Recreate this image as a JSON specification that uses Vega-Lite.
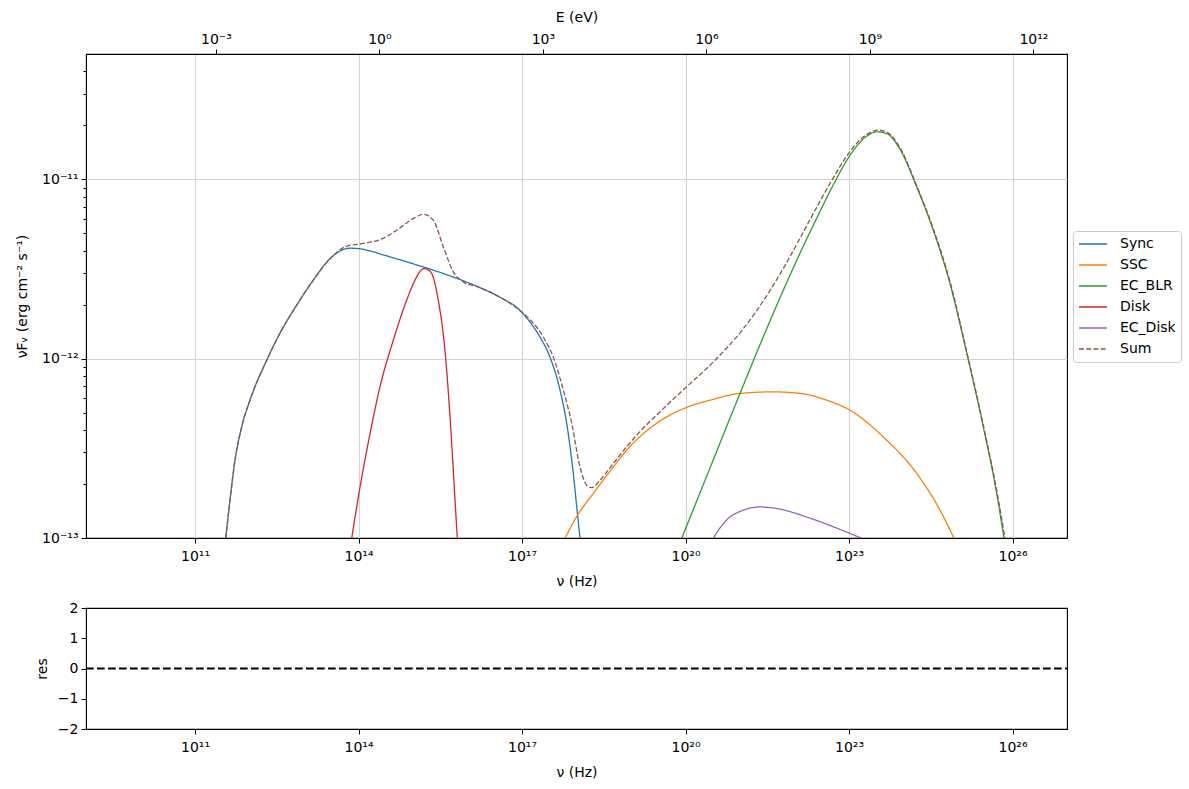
{
  "$schema": "https://vega.github.io/schema/vega-lite/v6.json",
  "padding": {"left": 15, "top": 9, "right": 5, "bottom": 5},
  "config": {
    "font": "DejaVu Sans",
    "view": {"stroke": "#000000", "strokeWidth": 1.1},
    "axis": {"labelFont": "DejaVu Sans", "titleFont": "DejaVu Sans", "labelFontSize": 14, "titleFontSize": 14, "titleFontWeight": "normal", "labelColor": "#000", "titleColor": "#000", "tickColor": "#000", "domainColor": "#000", "tickSize": 5, "labelPadding": 3, "grid": false, "labelFlush": false, "labelOverlap": false, "gridColor": "#d3d3d3", "gridWidth": 1},
    "legend": {"labelFont": "DejaVu Sans", "labelFontSize": 14, "labelColor": "#000", "strokeColor": "#cccccc", "fillColor": "#ffffff", "cornerRadius": 3, "padding": 5, "symbolType": "stroke", "symbolSize": 784, "symbolStrokeWidth": 1.4, "rowPadding": 5, "labelOffset": 12, "clipHeight": 16}
  },
  "datasets": {
    "sed": [
      {"c": "Sync", "nu": 3.66e11, "F": 9.96e-14}, {"c": "Sync", "nu": 4.39e11, "F": 1.63e-13}, {"c": "Sync", "nu": 5.42e11, "F": 2.72e-13}, {"c": "Sync", "nu": 7.19e11, "F": 4.17e-13}, {"c": "Sync", "nu": 1.02e12, "F": 5.87e-13}, {"c": "Sync", "nu": 2.07e12, "F": 9.81e-13}, {"c": "Sync", "nu": 3.63e12, "F": 1.39e-12}, {"c": "Sync", "nu": 7.35e12, "F": 1.99e-12}, {"c": "Sync", "nu": 1.48e13, "F": 2.74e-12}, {"c": "Sync", "nu": 3.0e13, "F": 3.61e-12}, {"c": "Sync", "nu": 5.26e13, "F": 4.06e-12}, {"c": "Sync", "nu": 6.98e13, "F": 4.13e-12}, {"c": "Sync", "nu": 1.07e14, "F": 4.10e-12}, {"c": "Sync", "nu": 1.63e14, "F": 3.99e-12}, {"c": "Sync", "nu": 2.48e14, "F": 3.84e-12}, {"c": "Sync", "nu": 1.01e15, "F": 3.38e-12}, {"c": "Sync", "nu": 4.15e15, "F": 2.94e-12}, {"c": "Sync", "nu": 1.69e16, "F": 2.49e-12}, {"c": "Sync", "nu": 3.94e16, "F": 2.20e-12}, {"c": "Sync", "nu": 9.18e16, "F": 1.86e-12}, {"c": "Sync", "nu": 1.40e17, "F": 1.60e-12}, {"c": "Sync", "nu": 2.14e17, "F": 1.32e-12}, {"c": "Sync", "nu": 3.26e17, "F": 1.02e-12}, {"c": "Sync", "nu": 4.98e17, "F": 6.68e-13}, {"c": "Sync", "nu": 6.61e17, "F": 4.36e-13}, {"c": "Sync", "nu": 8.73e17, "F": 2.29e-13}, {"c": "Sync", "nu": 1.01e18, "F": 1.49e-13}, {"c": "Sync", "nu": 1.16e18, "F": 9.96e-14},
      {"c": "SSC", "nu": 6.15e17, "F": 9.96e-14}, {"c": "SSC", "nu": 1.01e18, "F": 1.32e-13}, {"c": "SSC", "nu": 2.03e18, "F": 1.77e-13}, {"c": "SSC", "nu": 4.73e18, "F": 2.49e-13}, {"c": "SSC", "nu": 8.34e18, "F": 3.09e-13}, {"c": "SSC", "nu": 3.40e19, "F": 4.49e-13}, {"c": "SSC", "nu": 1.05e20, "F": 5.35e-13}, {"c": "SSC", "nu": 2.82e20, "F": 5.87e-13}, {"c": "SSC", "nu": 1.0e21, "F": 6.40e-13}, {"c": "SSC", "nu": 4.08e21, "F": 6.53e-13}, {"c": "SSC", "nu": 1.26e22, "F": 6.40e-13}, {"c": "SSC", "nu": 3.90e22, "F": 5.87e-13}, {"c": "SSC", "nu": 1.04e23, "F": 5.16e-13}, {"c": "SSC", "nu": 4.26e23, "F": 3.66e-13}, {"c": "SSC", "nu": 1.75e24, "F": 2.29e-13}, {"c": "SSC", "nu": 4.68e24, "F": 1.43e-13}, {"c": "SSC", "nu": 8.45e24, "F": 9.96e-14},
      {"c": "EC_BLR", "nu": 8.51e19, "F": 9.96e-14}, {"c": "EC_BLR", "nu": 2.82e20, "F": 2.46e-13}, {"c": "EC_BLR", "nu": 1.0e21, "F": 6.40e-13}, {"c": "EC_BLR", "nu": 3.30e21, "F": 1.54e-12}, {"c": "EC_BLR", "nu": 1.26e22, "F": 3.87e-12}, {"c": "EC_BLR", "nu": 2.55e22, "F": 6.06e-12}, {"c": "EC_BLR", "nu": 5.15e22, "F": 9.31e-12}, {"c": "EC_BLR", "nu": 1.04e23, "F": 1.36e-11}, {"c": "EC_BLR", "nu": 2.11e23, "F": 1.74e-11}, {"c": "EC_BLR", "nu": 3.22e23, "F": 1.84e-11}, {"c": "EC_BLR", "nu": 4.92e23, "F": 1.80e-11}, {"c": "EC_BLR", "nu": 8.63e23, "F": 1.47e-11}, {"c": "EC_BLR", "nu": 1.75e24, "F": 9.06e-12}, {"c": "EC_BLR", "nu": 3.52e24, "F": 5.20e-12}, {"c": "EC_BLR", "nu": 7.13e24, "F": 2.62e-12}, {"c": "EC_BLR", "nu": 1.45e25, "F": 1.07e-12}, {"c": "EC_BLR", "nu": 2.91e25, "F": 4.17e-13}, {"c": "EC_BLR", "nu": 5.13e25, "F": 1.77e-13}, {"c": "EC_BLR", "nu": 6.98e25, "F": 9.96e-14},
      {"c": "Disk", "nu": 7.50e13, "F": 9.96e-14}, {"c": "Disk", "nu": 1.07e14, "F": 1.93e-13}, {"c": "Disk", "nu": 1.63e14, "F": 3.83e-13}, {"c": "Disk", "nu": 2.48e14, "F": 6.97e-13}, {"c": "Disk", "nu": 4.36e14, "F": 1.27e-12}, {"c": "Disk", "nu": 7.66e14, "F": 2.12e-12}, {"c": "Disk", "nu": 1.17e15, "F": 2.86e-12}, {"c": "Disk", "nu": 1.34e15, "F": 3.06e-12}, {"c": "Disk", "nu": 1.61e15, "F": 3.18e-12}, {"c": "Disk", "nu": 1.88e15, "F": 3.13e-12}, {"c": "Disk", "nu": 2.20e15, "F": 2.99e-12}, {"c": "Disk", "nu": 2.91e15, "F": 2.12e-12}, {"c": "Disk", "nu": 3.86e15, "F": 1.11e-12}, {"c": "Disk", "nu": 4.78e15, "F": 4.74e-13}, {"c": "Disk", "nu": 5.90e15, "F": 1.63e-13}, {"c": "Disk", "nu": 6.50e15, "F": 9.96e-14},
      {"c": "EC_Disk", "nu": 3.24e20, "F": 9.96e-14}, {"c": "EC_Disk", "nu": 3.73e20, "F": 1.07e-13}, {"c": "EC_Disk", "nu": 5.70e20, "F": 1.26e-13}, {"c": "EC_Disk", "nu": 1.15e21, "F": 1.43e-13}, {"c": "EC_Disk", "nu": 2.33e21, "F": 1.49e-13}, {"c": "EC_Disk", "nu": 4.71e21, "F": 1.46e-13}, {"c": "EC_Disk", "nu": 1.92e22, "F": 1.29e-13}, {"c": "EC_Disk", "nu": 1.04e23, "F": 1.06e-13}, {"c": "EC_Disk", "nu": 1.71e23, "F": 9.96e-14},
      {"c": "Sum", "nu": 3.66e11, "F": 9.96e-14}, {"c": "Sum", "nu": 4.39e11, "F": 1.63e-13}, {"c": "Sum", "nu": 5.42e11, "F": 2.72e-13}, {"c": "Sum", "nu": 7.19e11, "F": 4.17e-13}, {"c": "Sum", "nu": 1.02e12, "F": 5.87e-13}, {"c": "Sum", "nu": 2.07e12, "F": 9.81e-13}, {"c": "Sum", "nu": 3.63e12, "F": 1.39e-12}, {"c": "Sum", "nu": 7.35e12, "F": 1.99e-12}, {"c": "Sum", "nu": 1.48e13, "F": 2.74e-12}, {"c": "Sum", "nu": 3.0e13, "F": 3.61e-12}, {"c": "Sum", "nu": 6.07e13, "F": 4.24e-12}, {"c": "Sum", "nu": 1.22e14, "F": 4.39e-12}, {"c": "Sum", "nu": 2.48e14, "F": 4.61e-12}, {"c": "Sum", "nu": 5.02e14, "F": 5.20e-12}, {"c": "Sum", "nu": 1.01e15, "F": 6.04e-12}, {"c": "Sum", "nu": 1.55e15, "F": 6.38e-12}, {"c": "Sum", "nu": 2.36e15, "F": 5.92e-12}, {"c": "Sum", "nu": 3.60e15, "F": 4.20e-12}, {"c": "Sum", "nu": 5.48e15, "F": 3.05e-12}, {"c": "Sum", "nu": 8.37e15, "F": 2.68e-12}, {"c": "Sum", "nu": 1.69e16, "F": 2.49e-12}, {"c": "Sum", "nu": 3.94e16, "F": 2.20e-12}, {"c": "Sum", "nu": 9.86e16, "F": 1.82e-12}, {"c": "Sum", "nu": 2.46e17, "F": 1.32e-12}, {"c": "Sum", "nu": 3.75e17, "F": 1.02e-12}, {"c": "Sum", "nu": 5.73e17, "F": 6.68e-13}, {"c": "Sum", "nu": 8.17e17, "F": 4.36e-13}, {"c": "Sum", "nu": 1.16e18, "F": 2.49e-13}, {"c": "Sum", "nu": 1.54e18, "F": 1.97e-13}, {"c": "Sum", "nu": 1.90e18, "F": 1.91e-13}, {"c": "Sum", "nu": 2.70e18, "F": 2.10e-13}, {"c": "Sum", "nu": 4.73e18, "F": 2.60e-13}, {"c": "Sum", "nu": 8.34e18, "F": 3.23e-13}, {"c": "Sum", "nu": 1.46e19, "F": 3.92e-13}, {"c": "Sum", "nu": 3.40e19, "F": 5.06e-13}, {"c": "Sum", "nu": 1.05e20, "F": 6.97e-13}, {"c": "Sum", "nu": 3.24e20, "F": 9.59e-13}, {"c": "Sum", "nu": 1.07e21, "F": 1.43e-12}, {"c": "Sum", "nu": 3.55e21, "F": 2.40e-12}, {"c": "Sum", "nu": 6.28e21, "F": 3.20e-12}, {"c": "Sum", "nu": 1.26e22, "F": 4.69e-12}, {"c": "Sum", "nu": 2.55e22, "F": 6.98e-12}, {"c": "Sum", "nu": 5.15e22, "F": 1.02e-11}, {"c": "Sum", "nu": 1.04e23, "F": 1.43e-11}, {"c": "Sum", "nu": 2.11e23, "F": 1.78e-11}, {"c": "Sum", "nu": 3.45e23, "F": 1.88e-11}, {"c": "Sum", "nu": 5.26e23, "F": 1.81e-11}, {"c": "Sum", "nu": 8.63e23, "F": 1.50e-11}, {"c": "Sum", "nu": 1.75e24, "F": 9.20e-12}, {"c": "Sum", "nu": 3.52e24, "F": 5.30e-12}, {"c": "Sum", "nu": 7.13e24, "F": 2.69e-12}, {"c": "Sum", "nu": 1.45e25, "F": 1.09e-12}, {"c": "Sum", "nu": 2.91e25, "F": 4.27e-13}, {"c": "Sum", "nu": 5.20e25, "F": 1.80e-13}, {"c": "Sum", "nu": 7.28e25, "F": 9.96e-14}
    ],
    "eaxis": [{"E": 4.1357e-6}, {"E": 4.1357e12}],
    "res": [{"nu": 1e9, "res": 0}, {"nu": 1e27, "res": 0}]
  },
  "vconcat": [
    {
      "width": 981,
      "height": 484,
      "layer": [
        {
          "data": {"name": "sed"},
          "mark": {"type": "line", "clip": true, "strokeWidth": 1.3, "interpolate": "monotone"},
          "encoding": {
            "x": {"field": "nu", "type": "quantitative", "scale": {"type": "log", "domain": [1e9, 1e27], "nice": false}, "axis": {"values": [1e11, 1e14, 1e17, 1e20, 1e23, 1e26], "labelExpr": "['10¹¹','10¹⁴','10¹⁷','10²⁰','10²³','10²⁶'][round((log(datum.value)/LN10-11)/3)]", "grid": true, "title": "ν  (Hz)", "labelPadding": 6, "titlePadding": 11, "orient": "bottom"}},
            "y": {"field": "F", "type": "quantitative", "scale": {"type": "log", "domain": [1e-13, 5e-11], "nice": false}, "axis": {"orient": "left", "values": [1e-13, 1e-12, 1e-11], "labelExpr": "['10⁻¹³','10⁻¹²','10⁻¹¹'][round(log(datum.value)/LN10)+13]", "grid": true, "title": "νFᵥ  (erg cm⁻²  s⁻¹)", "titlePadding": 12}},
            "color": {"field": "c", "type": "nominal", "scale": {"domain": ["Sync", "SSC", "EC_BLR", "Disk", "EC_Disk", "Sum"], "range": ["#1f77b4", "#ff7f0e", "#2ca02c", "#d62728", "#9467bd", "#8c564b"]}, "legend": {"title": null, "orient": "none", "legendX": 987, "legendY": 177}},
            "strokeDash": {"field": "c", "type": "nominal", "scale": {"domain": ["Sync", "SSC", "EC_BLR", "Disk", "EC_Disk", "Sum"], "range": [[1, 0], [1, 0], [1, 0], [1, 0], [1, 0], [5, 2.2]]}, "legend": {"title": null, "orient": "none", "legendX": 987, "legendY": 177}}
          }
        },
        {
          "data": {"name": "sed"},
          "mark": {"type": "point", "opacity": 0},
          "encoding": {
            "y": {"field": "F", "type": "quantitative", "scale": {"type": "log", "domain": [1e-13, 5e-11], "nice": false}, "axis": {"orient": "left", "values": [2e-13, 3e-13, 4e-13, 5e-13, 6e-13, 7e-13, 8e-13, 9e-13, 2e-12, 3e-12, 4e-12, 5e-12, 6e-12, 7e-12, 8e-12, 9e-12, 2e-11, 3e-11, 4e-11], "labels": false, "grid": false, "domain": false, "tickSize": 3, "title": null}}
          }
        },
        {
          "data": {"name": "eaxis"},
          "mark": {"type": "point", "opacity": 0},
          "encoding": {
            "x": {"field": "E", "type": "quantitative", "scale": {"type": "log", "domain": [4.1357e-6, 4.1357e12], "nice": false}, "axis": {"orient": "top", "values": [1e-3, 1, 1e3, 1e6, 1e9, 1e12], "labelExpr": "['10⁻³','10⁰','10³','10⁶','10⁹','10¹²'][round((log(datum.value)/LN10+3)/3)]", "grid": false, "title": "E (eV)", "titlePadding": 8}}
          }
        }
      ],
      "resolve": {"scale": {"x": "independent"}, "axis": {"y": "independent"}}
    },
    {
      "width": 981,
      "height": 121,
      "data": {"name": "res"},
      "mark": {"type": "line", "strokeDash": [7.7, 3.3], "strokeWidth": 2, "color": "#000000"},
      "encoding": {
        "x": {"field": "nu", "type": "quantitative", "scale": {"type": "log", "domain": [1e9, 1e27], "nice": false}, "axis": {"values": [1e11, 1e14, 1e17, 1e20, 1e23, 1e26], "labelExpr": "['10¹¹','10¹⁴','10¹⁷','10²⁰','10²³','10²⁶'][round((log(datum.value)/LN10-11)/3)]", "grid": false, "title": "ν  (Hz)", "labelPadding": 6, "titlePadding": 11}},
        "y": {"field": "res", "type": "quantitative", "scale": {"domain": [-2, 2], "nice": false, "zero": false}, "axis": {"values": [-2, -1, 0, 1, 2], "format": "d", "grid": false, "title": "res", "titlePadding": 8}}
      }
    }
  ],
  "spacing": 70,
  "bounds": "flush"
}
